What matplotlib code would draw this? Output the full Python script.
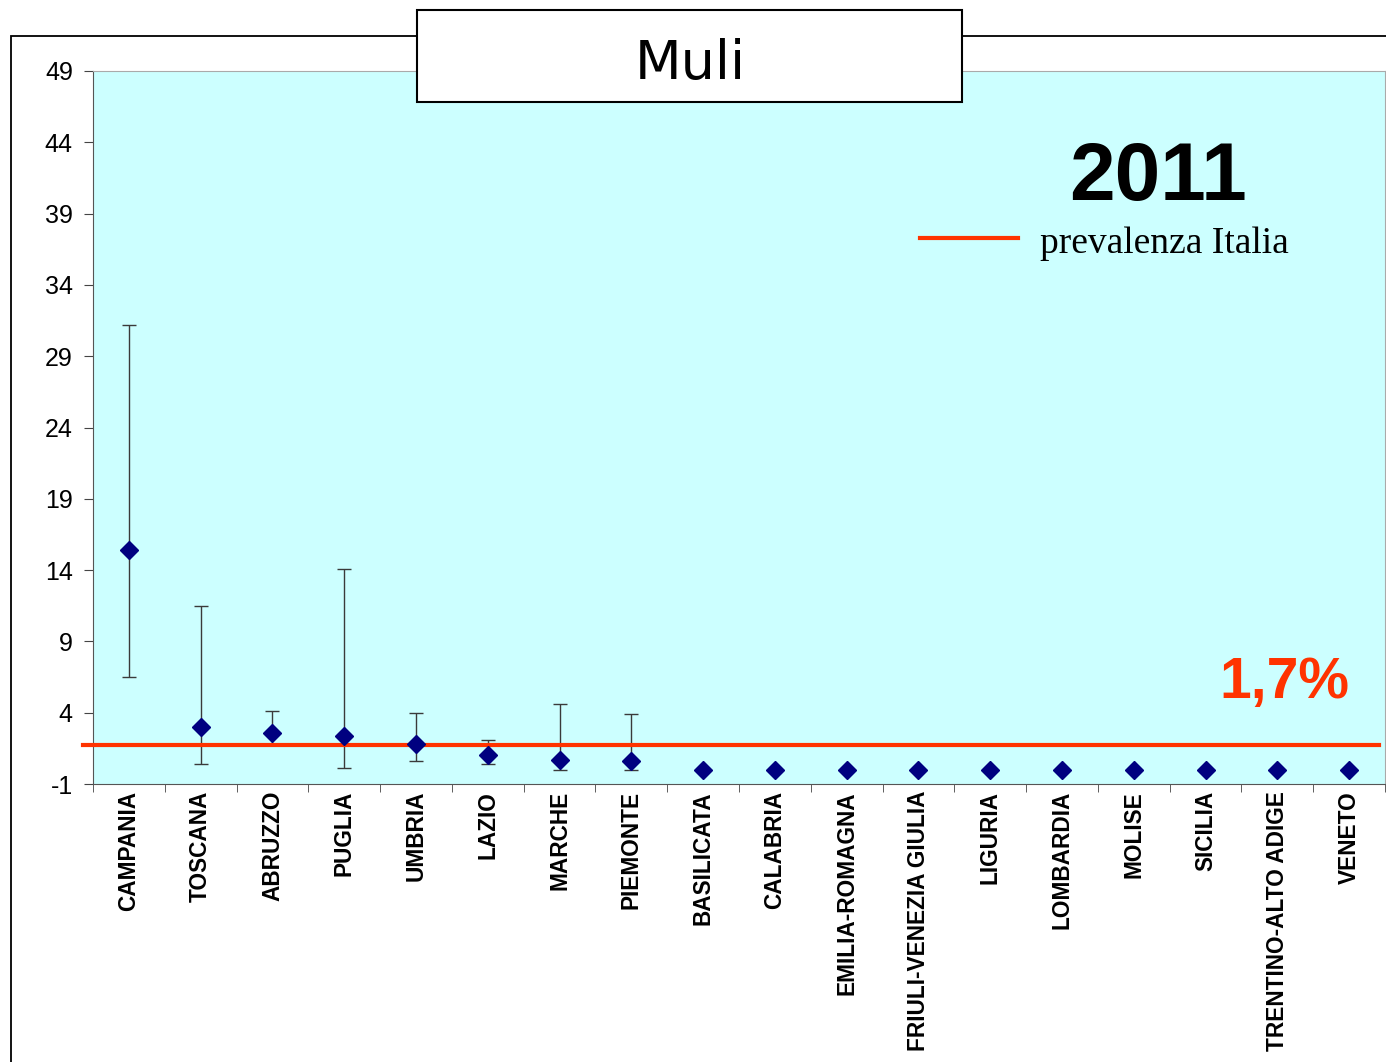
import numpy as np
import matplotlib
matplotlib.use("Agg")
from matplotlib import pyplot as plt
from matplotlib.patches import Rectangle

regioni = ['CAMPANIA', 'TOSCANA', 'ABRUZZO', 'PUGLIA', 'UMBRIA', 'LAZIO',
           'MARCHE', 'PIEMONTE', 'BASILICATA', 'CALABRIA', 'EMILIA-ROMAGNA',
           'FRIULI-VENEZIA GIULIA', 'LIGURIA', 'LOMBARDIA', 'MOLISE',
           'SICILIA', 'TRENTINO-ALTO ADIGE', 'VENETO']
prev = [15.4, 3.0, 2.6, 2.4, 1.8, 1.0, 0.7, 0.6, 0, 0, 0, 0, 0, 0, 0, 0, 0, 0]
sup = [31.2, 11.5, 4.1, 14.1, 4.0, 2.1, 4.6, 3.9, 0, 0, 0, 0, 0, 0, 0, 0, 0, 0]
inf = [6.5, 0.4, 1.7, 0.1, 0.6, 0.4, 0.0, 0.0, 0, 0, 0, 0, 0, 0, 0, 0, 0, 0]
prev_italia = 1.7
yticks = [-1, 4, 9, 14, 19, 24, 29, 34, 39, 44, 49]

W, H = 1386, 1062
fig = plt.figure(figsize=(W/100, H/100), dpi=100)

# cornice esterna
fig.patches.append(Rectangle((11/W, -0.1), 1.2, 1 - 36/H + 0.1, transform=fig.transFigure,
                             fill=False, edgecolor='black', linewidth=1.3, zorder=0))

ax = fig.add_axes([93/W, 1 - 784/H, (1385-93)/W, (784-71)/H])
ax.set_facecolor('#CCFFFF')

x = np.arange(len(regioni))
prev_a = np.array(prev)
yerr = np.vstack([prev_a - np.array(inf), np.array(sup) - prev_a])
ax.errorbar(x, prev_a, yerr=yerr, fmt='none', ecolor='#3a3a3a', elinewidth=1,
            capsize=5, capthick=1, zorder=2)
ax.plot(x, prev_a, linestyle='none', marker='D', markersize=9.5, color='#000080', zorder=4)

ax.axhline(prev_italia, xmin=-0.008, xmax=0.995, color='#FF3300', linewidth=3,
           clip_on=False, zorder=3)

ax.set_xlim(-0.5, len(regioni) - 0.5)
ax.set_ylim(-1, 49)
ax.set_yticks(yticks)
ax.set_yticklabels([str(t) for t in yticks], fontsize=18, family='Liberation Sans')
ax.set_xticks(x)
ax.set_xticklabels(regioni, rotation=90, fontsize=16.3, fontweight='bold',
                   family='Liberation Sans', va='top')
ax.set_xticks(np.arange(len(regioni) + 1) - 0.5, minor=True)
ax.tick_params(axis='x', which='major', length=0, pad=5)
ax.tick_params(axis='x', which='minor', length=6, color='#444444')
ax.tick_params(axis='y', length=6.5, color='#444444', pad=8)

for s in ['left', 'bottom']:
    ax.spines[s].set_color('#555555')
for s in ['top', 'right']:
    ax.spines[s].set_color('#aaaaaa')

# titolo
fig.patches.append(Rectangle((417/W, 1 - 102/H), (962-417)/W, 92/H, transform=fig.transFigure,
                             facecolor='white', edgecolor='black', linewidth=1.5, zorder=5))
fig.text(690/W, 1 - 79/H, 'Muli', ha='center', va='baseline', fontsize=39,
         family='DejaVu Sans', zorder=6)

fig.text(1158/W, 1 - 200/H, '2011', ha='center', va='baseline', fontsize=59,
         fontweight='bold', family='Liberation Sans')
fig.add_artist(plt.Line2D([920/W, 1018/W], [1 - 238/H, 1 - 238/H], color='#FF3300',
                          linewidth=3, transform=fig.transFigure))
fig.text(1040/W, 1 - 253/H, 'prevalenza Italia', ha='left', va='baseline', fontsize=27,
         family='Liberation Serif')
fig.text(1284/W, 1 - 698/H, '1,7%', ha='center', va='baseline', fontsize=41,
         fontweight='bold', color='#FF3300', family='Liberation Sans')

fig.savefig('out.png', dpi=100)
